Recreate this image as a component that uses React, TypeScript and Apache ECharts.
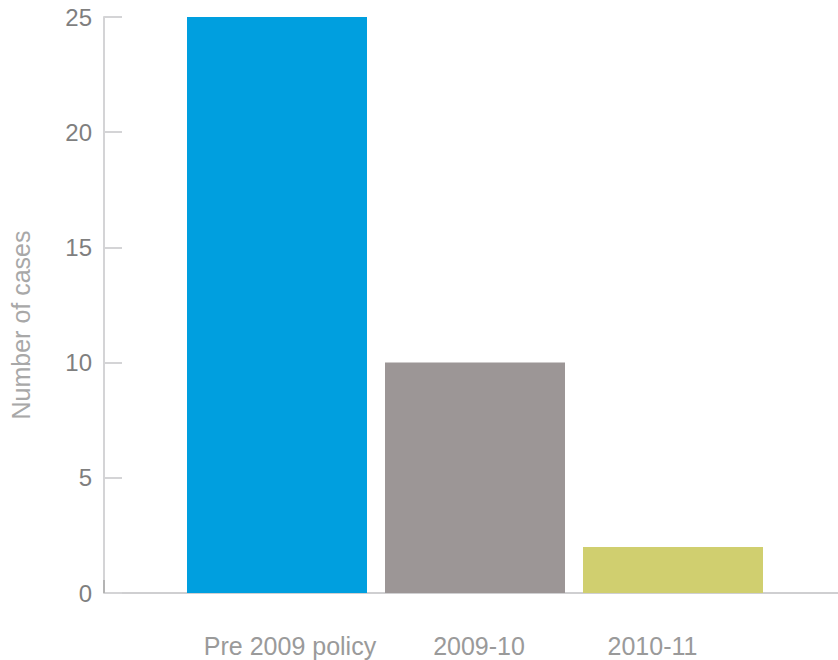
import React, { useEffect, useRef } from "react";
import * as echarts from "echarts";

const categories = ["Pre 2009 policy", "2009-10", "2010-11"];
const caseCounts = [25, 10, 2];
const barColors = ["#009fdf", "#9c9696", "#d0cf6f"];
const yTicks = { min: 0, max: 25, interval: 5 };

const FONT = "'Liberation Sans', Arial, Helvetica, sans-serif";
const labelPads = [
  [0, 0, 0, 26],
  [0, 0, 0, 8],
  [0, 41, 0, 0],
];

export default function App() {
  const ref = useRef<HTMLDivElement>(null);
  useEffect(() => {
    if (!ref.current) return;
    const chart = echarts.init(ref.current, null, { renderer: "svg" });
    chart.setOption({
      animation: false,
      backgroundColor: "#ffffff",
      textStyle: { fontFamily: FONT },
      grid: { left: 178, right: 66, top: 17, bottom: 67, containLabel: false },
      xAxis: {
        type: "category",
        data: categories.map((c, i) => ({
          value: c,
          textStyle: { padding: labelPads[i] },
        })),
        axisLine: { show: false },
        axisTick: { show: false },
        axisLabel: {
          interval: 0,
          hideOverlap: false,
          color: "#9a9a9a",
          fontSize: 25,
          fontFamily: FONT,
          margin: 40,
        },
      },
      yAxis: {
        type: "value",
        min: yTicks.min,
        max: yTicks.max,
        interval: yTicks.interval,
        offset: 74,
        name: "Number of cases",
        nameLocation: "middle",
        nameGap: 71,
        nameTextStyle: {
          color: "#a8a8a8",
          fontSize: 25,
          fontFamily: FONT,
          padding: [0, 40, 0, 0],
        },
        splitLine: { show: false },
        axisLine: { show: true, lineStyle: { color: "#d4d4d6", width: 2 } },
        axisTick: {
          show: true,
          inside: true,
          length: 18,
          lineStyle: { color: "#d4d4d6", width: 2 },
        },
        axisLabel: {
          color: "#7f7f7f",
          fontSize: 24,
          fontFamily: FONT,
          margin: 12,
        },
      },
      graphic: [
        {
          type: "line",
          z: 0,
          shape: { x1: 104, y1: 593, x2: 838, y2: 593 },
          style: { stroke: "#cfcfd1", lineWidth: 2 },
        },
        {
          type: "line",
          z: 1,
          shape: { x1: 104, y1: 580, x2: 104, y2: 593 },
          style: { stroke: "#b4b4b4", lineWidth: 2 },
        },
      ],
      series: [
        {
          type: "bar",
          barWidth: 180,
          z: 2,
          data: caseCounts.map((v, i) => ({
            value: v,
            itemStyle: { color: barColors[i] },
          })),
        },
      ],
    });
    return () => chart.dispose();
  }, []);
  return (
    <div
      ref={ref}
      style={{ position: "fixed", left: 0, top: 0, width: 838, height: 660 }}
    />
  );
}
